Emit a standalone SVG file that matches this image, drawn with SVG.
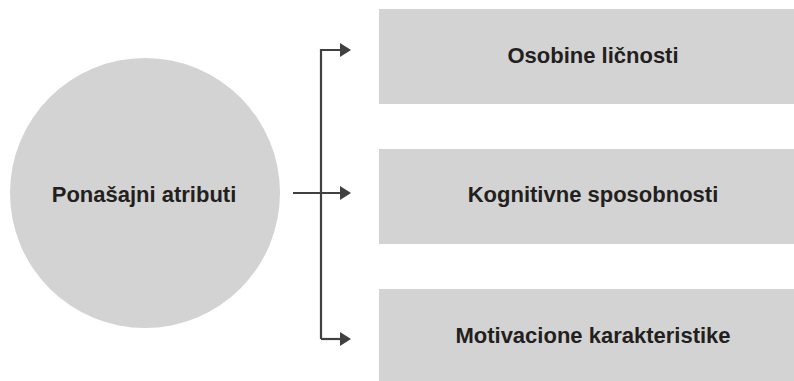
<svg xmlns="http://www.w3.org/2000/svg" width="794" height="381" viewBox="0 0 794 381">
<style>
.shape{fill:#d3d3d3;stroke:none}
.lbl{font-family:"Liberation Sans",Arial,sans-serif;font-weight:bold;font-size:22px;fill:#231f20;text-anchor:middle}
.conn{fill:none;stroke:#404040;stroke-width:2.2}
.head{fill:#404040}
</style>
<defs>
<marker id="arr" markerUnits="userSpaceOnUse" markerWidth="12" markerHeight="14" refX="0" refY="7" orient="auto">
<path class="head" d="M0,0 L11,7 L0,14 Z"/>
</marker>
</defs>
<rect width="794" height="381" fill="#ffffff"/>
<g id="node-ponasajni">
<circle class="shape" cx="145" cy="193" r="135"/>
<text class="lbl" x="144" y="202">Ponašajni atributi</text>
</g>
<g id="node-osobine">
<rect class="shape" x="379" y="9" width="415" height="95"/>
<text class="lbl" x="593" y="63">Osobine ličnosti</text>
</g>
<g id="node-kognitivne">
<rect class="shape" x="379" y="149" width="415" height="95"/>
<text class="lbl" x="593" y="202">Kognitivne sposobnosti</text>
</g>
<g id="node-motivacione">
<rect class="shape" x="379" y="289" width="415" height="92"/>
<text class="lbl" x="593" y="343">Motivacione karakteristike</text>
</g>
<g id="connectors">
<path class="conn" d="M321,339 L321,50 L340,50" marker-end="url(#arr)"/>
<path class="conn" d="M293,193 L340,193" marker-end="url(#arr)"/>
<path class="conn" d="M321,339 L340,339" marker-end="url(#arr)"/>
</g>
</svg>
